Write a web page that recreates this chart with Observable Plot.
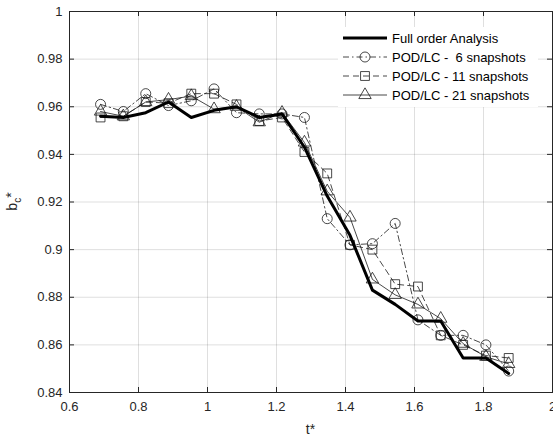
<!DOCTYPE html>
<html><head><meta charset="utf-8">
<script src="https://cdn.jsdelivr.net/npm/d3@7"></script>
<script src="https://cdn.jsdelivr.net/npm/@observablehq/plot@0.6"></script>
<style>body{margin:0;background:#fff;} #chart svg{overflow:visible}</style>
</head><body><div id="chart"></div>
<script>
const tStar = [0.690,0.756,0.821,0.887,0.953,1.019,1.084,1.150,1.216,1.281,1.347,1.413,1.478,1.544,1.610,1.676,1.741,1.807,1.873];
const fullOrder = [0.956,0.9555,0.9575,0.962,0.9555,0.9585,0.960,0.9555,0.957,0.943,0.9225,0.906,0.883,0.877,0.870,0.870,0.8545,0.8545,0.848];
const pod6  = [0.961,0.958,0.9655,0.9605,0.9625,0.9675,0.9575,0.957,0.957,0.9555,0.913,0.902,0.9025,0.911,0.8705,0.864,0.864,0.860,0.849];
const pod11 = [0.9555,0.956,0.962,0.9615,0.9655,0.9655,0.961,0.954,0.9555,0.941,0.932,0.902,0.900,0.8855,0.8845,0.864,0.860,0.8555,0.8545];
const pod21 = [0.958,0.956,0.962,0.963,0.9645,0.959,0.960,0.9535,0.9575,0.945,0.9245,0.9135,0.8875,0.881,0.877,0.871,0.8605,0.855,0.852];
const xTicks = [0.6,0.8,1,1.2,1.4,1.6,1.8,2];
const yTicks = [0.84,0.86,0.88,0.9,0.92,0.94,0.96,0.98,1];
const seriesNames = ["Full order Analysis","POD/LC -  6 snapshots","POD/LC - 11 snapshots","POD/LC - 21 snapshots"];

const rows = (vals) => tStar.map((t, i) => ({t, b: vals[i]}));
const dFull = rows(fullOrder), d6 = rows(pod6), d11 = rows(pod11), d21 = rows(pod21);

const W = 553, H = 437, mL = 69, mR = 1, mT = 11, mB = 45;
const fw = W - mL - mR, fh = H - mT - mB;
const ink = "#262626", thin = "#1a1a1a";
const dashDot = "6,3,1.5,3", dashed = "6,4";

const plot = Plot.plot({
  width: W, height: H,
  marginLeft: mL, marginRight: mR, marginTop: mT, marginBottom: mB,
  style: {fontFamily: "'Liberation Sans', Arial, sans-serif", fontSize: "13px", color: ink, background: "#fff"},
  x: {domain: [0.6, 2], label: null},
  y: {domain: [0.84, 1], label: null},
  marks: [
    Plot.gridX(xTicks, {stroke: ink, strokeOpacity: 0.15}),
    Plot.gridY(yTicks, {stroke: ink, strokeOpacity: 0.15}),
    Plot.line(d6, {x: "t", y: "b", stroke: thin, strokeWidth: 0.8, strokeDasharray: dashDot}),
    Plot.line(d11, {x: "t", y: "b", stroke: thin, strokeWidth: 0.8, strokeDasharray: dashed}),
    Plot.line(d21, {x: "t", y: "b", stroke: thin, strokeWidth: 0.8}),
    Plot.dot(d6, {x: "t", y: "b", symbol: "circle", r: 5, stroke: thin, strokeWidth: 0.8, fill: "none"}),
    Plot.dot(d11, {x: "t", y: "b", symbol: "square", r: 5, stroke: thin, strokeWidth: 0.8, fill: "none"}),
    Plot.dot(d21, {x: "t", y: "b", symbol: "triangle", r: 4.6, stroke: thin, strokeWidth: 0.8, fill: "none"}),
    Plot.line(dFull, {x: "t", y: "b", stroke: "#000", strokeWidth: 3}),
    Plot.tickX(xTicks, {x: d => d, insetTop: fh - 5, stroke: ink}),
    Plot.tickX(xTicks, {x: d => d, insetBottom: fh - 5, stroke: ink}),
    Plot.tickY(yTicks, {y: d => d, insetRight: fw - 5, stroke: ink}),
    Plot.tickY(yTicks, {y: d => d, insetLeft: fw - 5, stroke: ink}),
    Plot.axisX(xTicks, {tickSize: 0, tickPadding: 9, tickFormat: d => String(d), fill: ink, label: null}),
    Plot.axisY(yTicks, {tickSize: 0, tickPadding: 7, tickFormat: d => String(d), fill: ink, label: null}),
    Plot.frame({stroke: ink, strokeWidth: 1})
  ]
});
document.getElementById("chart").appendChild(plot);

const svg = d3.select(plot);
const font = "'Liberation Sans', Arial, sans-serif";
// axis labels
svg.append("text").attr("x", mL + fw / 2).attr("y", 434).attr("text-anchor", "middle")
  .attr("font-family", font).attr("font-size", 14).attr("fill", ink).text("t*");
const yl = svg.append("text").attr("transform", `translate(17,${mT + fh / 2}) rotate(-90)`)
  .attr("text-anchor", "middle").attr("font-family", font).attr("font-size", 14).attr("fill", ink);
yl.append("tspan").text("b");
yl.append("tspan").attr("dy", 4).attr("font-size", 10).text("c");
yl.append("tspan").attr("dy", -5).text("*");

// legend
const lg = svg.append("g").attr("text-anchor", "start");
lg.append("rect").attr("x", 338).attr("y", 27).attr("width", 200).attr("height", 80).attr("fill", "#fff");
const rowsY = [38, 57, 76, 95];
const styles = [
  {w: 3, dash: null, sym: null},
  {w: 0.8, dash: dashDot, sym: d3.symbolCircle, r: 5},
  {w: 0.8, dash: dashed, sym: d3.symbolSquare, r: 5},
  {w: 0.8, dash: null, sym: d3.symbolTriangle, r: 4.6}
];
seriesNames.forEach((name, i) => {
  const y = rowsY[i], s = styles[i];
  const ln = lg.append("line").attr("x1", 343).attr("x2", 387).attr("y1", y).attr("y2", y)
    .attr("stroke", s.sym ? thin : "#000").attr("stroke-width", s.w);
  if (s.dash) ln.attr("stroke-dasharray", s.dash);
  if (s.sym) {
    lg.append("path").attr("transform", `translate(365,${y})`)
      .attr("d", d3.symbol(s.sym, Math.PI * s.r * s.r)())
      .attr("fill", "none").attr("stroke", thin).attr("stroke-width", 0.8);
  }
  lg.append("text").attr("x", 392).attr("y", y).attr("dy", "0.35em").attr("text-anchor", "start")
    .attr("font-family", font).attr("font-size", 13).attr("fill", "#000")
    .style("white-space", "pre").text(name);
});
</script>
</body></html>
